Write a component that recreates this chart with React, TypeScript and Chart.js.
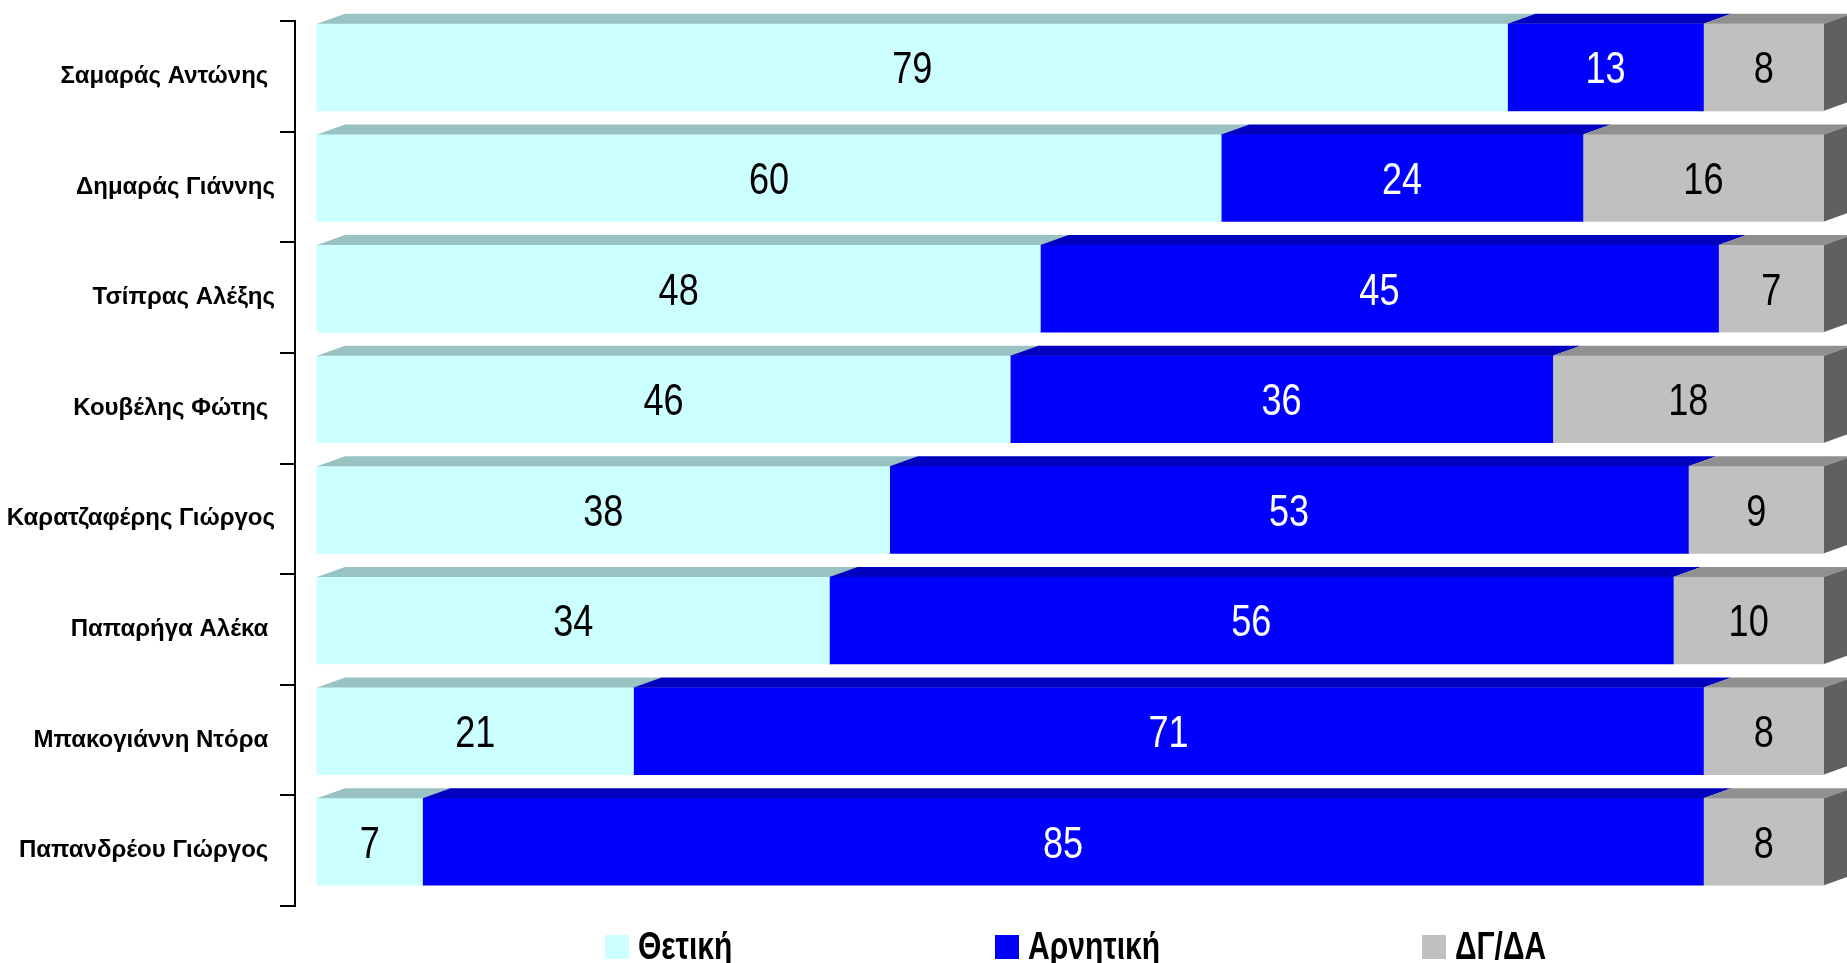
import React, { useEffect, useRef } from "react";
import { Chart, registerables } from "chart.js";

Chart.register(...registerables);

// ---- Data ----
const categories = [
  "Σαμαράς Αντώνης ",
  "Δημαράς Γιάννης",
  "Τσίπρας Αλέξης",
  "Κουβέλης Φώτης ",
  "Καρατζαφέρης Γιώργος",
  "Παπαρήγα Αλέκα ",
  "Μπακογιάννη Ντόρα ",
  "Παπανδρέου Γιώργος ",
];
const seriesLabels = ["Θετική", "Αρνητική", "ΔΓ/ΔΑ"];
const positiveValues = [79, 60, 48, 46, 38, 34, 21, 7];
const negativeValues = [13, 24, 45, 36, 53, 56, 71, 85];
const dontKnowValues = [8, 16, 7, 18, 9, 10, 8, 8];

// ---- Styles ----
const frontColors = ["#CCFFFF", "#0000FF", "#C0C0C0"];
const topColors = ["#99C2C2", "#0000BE", "#909090"];
const sideColor = "#606060";
const labelColors = ["#000000", "#FFFFFF", "#000000"];

const SHIFT_Y = -9; // front face offset of the 3D bars
const DEPTH_X = 28;
const DEPTH_Y = -10;

const threeDPlugin = {
  id: "threeD",
  beforeDatasetsDraw(chart: any) {
    chart.ctx.save();
    chart.ctx.translate(0, SHIFT_Y);
  },
  afterDatasetsDraw(chart: any) {
    const ctx = chart.ctx;
    const n = chart.data.datasets.length;
    chart.data.datasets.forEach((ds: any, di: number) => {
      const meta = chart.getDatasetMeta(di);
      meta.data.forEach((bar: any) => {
        const { x, y, base, height } = bar.getProps(["x", "y", "base", "height"], true);
        const top = y - height / 2;
        const bottom = y + height / 2;
        ctx.fillStyle = topColors[di];
        ctx.beginPath();
        ctx.moveTo(base, top);
        ctx.lineTo(base + DEPTH_X, top + DEPTH_Y);
        ctx.lineTo(x + DEPTH_X, top + DEPTH_Y);
        ctx.lineTo(x, top);
        ctx.closePath();
        ctx.fill();
        if (di === n - 1) {
          ctx.fillStyle = sideColor;
          ctx.beginPath();
          ctx.moveTo(x, top);
          ctx.lineTo(x + DEPTH_X, top + DEPTH_Y);
          ctx.lineTo(x + DEPTH_X, bottom + DEPTH_Y);
          ctx.lineTo(x, bottom);
          ctx.closePath();
          ctx.fill();
        }
      });
    });
    // value labels
    ctx.font = '44px "Liberation Sans", Arial, sans-serif';
    ctx.textAlign = "center";
    ctx.textBaseline = "alphabetic";
    chart.data.datasets.forEach((ds: any, di: number) => {
      const meta = chart.getDatasetMeta(di);
      meta.data.forEach((bar: any, i: number) => {
        const { x, y, base } = bar.getProps(["x", "y", "base"], true);
        const v = ds.data[i];
        ctx.save();
        ctx.fillStyle = labelColors[di];
        ctx.translate((x + base) / 2, y + 16);
        ctx.scale(0.82, 1);
        ctx.fillText(String(v), 0, 0);
        ctx.restore();
      });
    });
    ctx.restore();
  },
  afterDraw(chart: any) {
    const ctx = chart.ctx;
    const itemX = [605, 995, 1422];
    const boxY = 935;
    const box = 24;
    ctx.save();
    ctx.font = 'bold 38px "Liberation Sans", Arial, sans-serif';
    ctx.textAlign = "left";
    ctx.textBaseline = "alphabetic";
    chart.data.datasets.forEach((ds: any, di: number) => {
      const bx = itemX[di];
      ctx.fillStyle = frontColors[di];
      ctx.fillRect(bx, boxY, box, box);
      ctx.save();
      ctx.fillStyle = "#000";
      ctx.translate(bx + box + 9, 959);
      ctx.scale(0.79, 1);
      ctx.fillText(ds.label, 0, 0);
      ctx.restore();
    });
    ctx.restore();
  },
};

export default function App() {
  const ref = useRef<HTMLCanvasElement | null>(null);
  useEffect(() => {
    if (!ref.current) return;
    const chart = new Chart(ref.current, {
      type: "bar",
      data: {
        labels: categories,
        datasets: [
          { label: seriesLabels[0], data: positiveValues, backgroundColor: frontColors[0] },
          { label: seriesLabels[1], data: negativeValues, backgroundColor: frontColors[1] },
          { label: seriesLabels[2], data: dontKnowValues, backgroundColor: frontColors[2] },
        ],
      },
      options: {
        indexAxis: "y",
        responsive: false,
        animation: false,
        devicePixelRatio: 1,
        layout: { padding: { top: 21, bottom: 57, left: 0, right: 23 } },
        datasets: { bar: { barThickness: 87, borderWidth: 0, clip: false } as any },
        plugins: { legend: { display: false }, tooltip: { enabled: false } },
        scales: {
          x: { stacked: true, display: false, min: -1.46, max: 100 },
          y: {
            stacked: true,
            position: "left",
            afterFit: (scale: any) => {
              scale.width = 295;
            },
            border: { display: true, color: "#000", width: 2 },
            grid: {
              offset: true,
              drawOnChartArea: false,
              drawTicks: true,
              tickLength: 15,
              color: "#000",
              lineWidth: 2,
            },
            ticks: {
              padding: 5,
              color: "#000",
              font: { family: '"Liberation Sans", Arial, sans-serif', weight: "bold", size: 24 },
            },
          },
        },
      },
      plugins: [threeDPlugin],
    });
    return () => chart.destroy();
  }, []);
  return (
    <div style={{ position: "absolute", left: 0, top: 0, width: 1847, height: 963 }}>
      <canvas ref={ref} width={1847} height={963} />
    </div>
  );
}
